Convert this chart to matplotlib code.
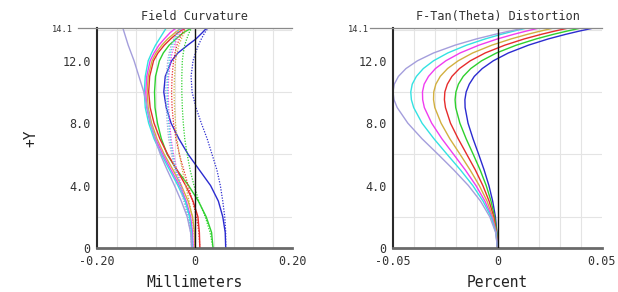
import numpy as np
import matplotlib
matplotlib.use("Agg")
import matplotlib.pyplot as plt

OUT = "out.png"

FC_Y = [0, 1, 2, 3, 4, 5, 6, 7, 8, 9, 10, 11, 12, 12.5, 13, 13.4, 13.8, 14.1]
DIST_Y = [0, 1, 2, 3, 4, 5, 6, 7, 8, 9, 9.5, 10, 10.5, 11, 11.5, 12, 12.5, 13, 13.4, 13.7, 13.9, 14.1]

COLORS = ["#2b2bd0", "#2ed02e", "#e62c2c", "#d2b040", "#f03cf0", "#33e2e2", "#a49edc"]

# field curvature, tangential (solid), mm
blue_t = [0.064, 0.063, 0.058, 0.049, 0.033, 0.010, -0.013, -0.032, -0.048, -0.058, -0.063, -0.060, -0.047, -0.034, -0.014, 0.003, 0.016, 0.025]
green_t = [0.038, 0.035, 0.024, 0.008, -0.012, -0.036, -0.056, -0.068, -0.076, -0.081, -0.082, -0.080, -0.072, -0.064, -0.052, -0.038, -0.023, -0.006]
red_t = [0.011, 0.010, 0.007, -0.003, -0.018, -0.036, -0.055, -0.071, -0.083, -0.091, -0.094, -0.092, -0.084, -0.075, -0.062, -0.049, -0.034, -0.019]
yellow_t = [0.001, 0.000, -0.004, -0.013, -0.027, -0.044, -0.062, -0.077, -0.088, -0.095, -0.097, -0.095, -0.087, -0.079, -0.067, -0.055, -0.040, -0.027]
magenta_t = [-0.003, -0.004, -0.008, -0.017, -0.031, -0.048, -0.065, -0.080, -0.091, -0.098, -0.100, -0.098, -0.091, -0.083, -0.073, -0.062, -0.050, -0.038]
cyan_t = [-0.005, -0.006, -0.010, -0.019, -0.034, -0.051, -0.068, -0.083, -0.094, -0.101, -0.103, -0.101, -0.095, -0.088, -0.080, -0.072, -0.064, -0.058]
lavender_t = [-0.006, -0.008, -0.015, -0.027, -0.041, -0.056, -0.070, -0.081, -0.090, -0.097, -0.104, -0.114, -0.124, -0.130, -0.136, -0.140, -0.144, -0.147]

# field curvature, sagittal (dotted), mm
blue_s = [0.064, 0.064, 0.062, 0.058, 0.053, 0.046, 0.036, 0.026, 0.014, 0.003, -0.005, -0.007, -0.003, 0.002, 0.008, 0.014, 0.021, 0.028]
green_s = [0.038, 0.032, 0.022, 0.009, -0.001, -0.009, -0.015, -0.020, -0.023, -0.025, -0.026, -0.026, -0.025, -0.023, -0.020, -0.016, -0.011, -0.006]
red_s = [0.011, 0.009, 0.004, -0.004, -0.013, -0.022, -0.031, -0.038, -0.043, -0.046, -0.047, -0.046, -0.043, -0.040, -0.036, -0.031, -0.025, -0.018]
yellow_s = [0.001, -0.001, -0.005, -0.011, -0.018, -0.025, -0.031, -0.036, -0.039, -0.041, -0.042, -0.041, -0.039, -0.036, -0.032, -0.027, -0.021, -0.016]
magenta_s = [-0.003, -0.005, -0.010, -0.018, -0.027, -0.036, -0.043, -0.048, -0.051, -0.053, -0.054, -0.053, -0.049, -0.046, -0.041, -0.036, -0.030, -0.023]
cyan_s = [-0.005, -0.007, -0.012, -0.020, -0.029, -0.038, -0.045, -0.050, -0.053, -0.055, -0.056, -0.055, -0.052, -0.049, -0.045, -0.040, -0.034, -0.028]
lavender_s = [-0.006, -0.008, -0.014, -0.022, -0.031, -0.040, -0.047, -0.053, -0.056, -0.058, -0.059, -0.058, -0.055, -0.052, -0.048, -0.043, -0.037, -0.031]

# F-Tan(Theta) distortion, percent
blue_d = [0, -0.0003, -0.0010, -0.0023, -0.0041, -0.0064, -0.0090, -0.0117, -0.0141, -0.0155, -0.0156, -0.0150, -0.0135, -0.0111, -0.0073, -0.0020, 0.0052, 0.0148, 0.0243, 0.0328, 0.0391, 0.0460]
green_d = [0, -0.0003, -0.0014, -0.0031, -0.0054, -0.0083, -0.0116, -0.0150, -0.0180, -0.0200, -0.0203, -0.0199, -0.0187, -0.0164, -0.0128, -0.0076, -0.0005, 0.0090, 0.0185, 0.0269, 0.0332, 0.0400]
red_d = [0, -0.0005, -0.0018, -0.0040, -0.0070, -0.0106, -0.0147, -0.0188, -0.0225, -0.0249, -0.0254, -0.0252, -0.0240, -0.0218, -0.0182, -0.0130, -0.0059, 0.0035, 0.0128, 0.0211, 0.0273, 0.0340]
yellow_d = [0, -0.0006, -0.0023, -0.0050, -0.0087, -0.0131, -0.0179, -0.0228, -0.0270, -0.0300, -0.0306, -0.0305, -0.0295, -0.0274, -0.0239, -0.0188, -0.0119, -0.0027, 0.0065, 0.0145, 0.0205, 0.0270]
magenta_d = [0, -0.0007, -0.0027, -0.0060, -0.0103, -0.0154, -0.0210, -0.0266, -0.0315, -0.0350, -0.0358, -0.0359, -0.0351, -0.0330, -0.0297, -0.0247, -0.0179, -0.0089, 0.0000, 0.0079, 0.0137, 0.0200]
cyan_d = [0, -0.0008, -0.0031, -0.0069, -0.0118, -0.0177, -0.0241, -0.0304, -0.0361, -0.0401, -0.0412, -0.0415, -0.0408, -0.0388, -0.0355, -0.0306, -0.0238, -0.0148, -0.0059, 0.0019, 0.0077, 0.0140]
lavender_d = [0, -0.0009, -0.0037, -0.0081, -0.0139, -0.0209, -0.0284, -0.0361, -0.0429, -0.0480, -0.0495, -0.0500, -0.0494, -0.0474, -0.0438, -0.0383, -0.0306, -0.0203, -0.0101, -0.0010, 0.0057, 0.0130]

TANG = [blue_t, green_t, red_t, yellow_t, magenta_t, cyan_t, lavender_t]
SAG = [blue_s, green_s, red_s, yellow_s, magenta_s, cyan_s, lavender_s]
DIST = [blue_d, green_d, red_d, yellow_d, magenta_d, cyan_d, lavender_d]

FC_XTICKS = [-0.20, 0, 0.20]
FC_XLABELS = ["-0.20", "0", "0.20"]
D_XTICKS = [-0.05, 0, 0.05]
D_XLABELS = ["-0.05", "0", "0.05"]
YTICKS = [0, 4, 8, 12, 14.1]
YLABELS = ["0", "4.0", "8.0", "12.0", "14.1"]

MONO = "DejaVu Sans Mono"


def style(ax, xmax, xticks, xlabels, title, xlabel, ext):
    ax.set_xlim(-xmax, xmax)
    ax.set_ylim(0, 14.1)

    # light grid: 10 columns, rows every 2
    ax.set_xticks(np.linspace(-xmax, xmax, 11), minor=True)
    ax.set_yticks(np.arange(0, 14.1, 2), minor=True)
    ax.grid(which="minor", color="#e4e4e4", lw=0.8)

    ax.set_xticks(xticks)
    ax.set_xticklabels(xlabels, family=MONO, fontsize=8.5, color="#333333")
    ax.set_yticks(YTICKS)
    ax.set_yticklabels(YLABELS, family=MONO, fontsize=8.5, color="#333333")
    ax.tick_params(which="both", length=0)
    ax.tick_params(axis="x", pad=5)
    ax.tick_params(axis="y", pad=4.5)

    # the 14.1 label is small and sits after a long tick line
    top = ax.yaxis.get_major_ticks()[-1]
    top.set_pad(17.5)
    top.label1.set_fontsize(6.3)

    ax.axvline(0, color="#111111", lw=1.0, zorder=3)
    ax.axhline(14.1, xmin=-ext, xmax=1, color="#8a8a8a", lw=0.9,
               clip_on=False, zorder=4)

    for s in ["top", "right"]:
        ax.spines[s].set_visible(False)
    ax.spines["left"].set_color("#2a2a2a")
    ax.spines["left"].set_linewidth(1.5)
    ax.spines["bottom"].set_color("#6a6a6a")
    ax.spines["bottom"].set_linewidth(2.0)

    ax.set_title(title, family=MONO, fontsize=8.5, color="#333333", pad=6)
    ax.set_xlabel(xlabel, family=MONO, fontsize=10.5, color="#222222", labelpad=5)


fig = plt.figure(figsize=(6.18, 2.92), dpi=100)
ax1 = fig.add_axes([97 / 618, 44 / 292, 195 / 618, 220 / 292])
ax2 = fig.add_axes([393 / 618, 44 / 292, 209 / 618, 220 / 292])

for col, t, s in zip(COLORS, TANG, SAG):
    ax1.plot(t, FC_Y, color=col, lw=1.0, zorder=2)
    ax1.plot(s, FC_Y, color=col, lw=0.9, ls=(0, (1, 1.2)), zorder=2)

for col, d in zip(COLORS, DIST):
    ax2.plot(d, DIST_Y, color=col, lw=1.0, zorder=2)

style(ax1, 0.20, FC_XTICKS, FC_XLABELS, "Field Curvature", "Millimeters", 0.097)
style(ax2, 0.05, D_XTICKS, D_XLABELS, "F-Tan(Theta) Distortion", "Percent", 0.11)

ax1.set_ylabel("+Y", family=MONO, fontsize=10.5, color="#222222")
ax1.yaxis.set_label_coords(-0.30, 0.5)

fig.savefig(OUT, dpi=100, facecolor="white")
